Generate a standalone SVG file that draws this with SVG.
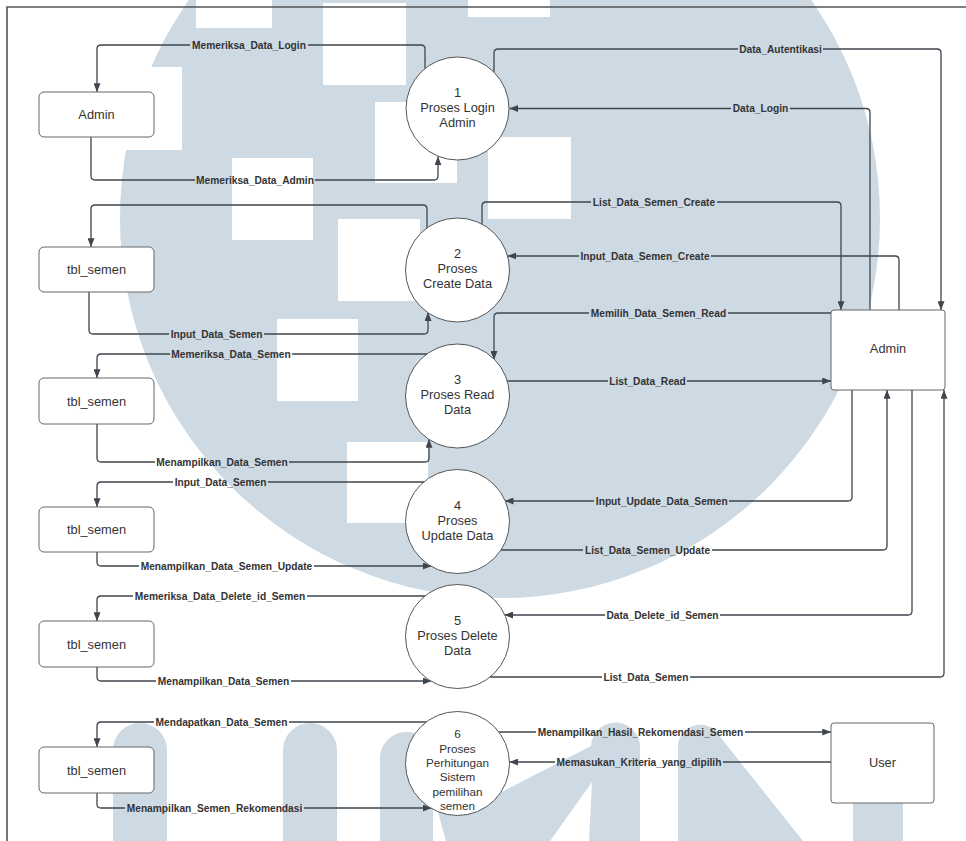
<svg xmlns="http://www.w3.org/2000/svg" width="966" height="841" viewBox="0 0 966 841">
  <style>
    .box { fill: #fff; stroke: #666; stroke-width: 1; }
    .proc { fill: #fff; stroke: #555; stroke-width: 1; }
    .ntxt { font-family: "Liberation Sans", Arial, sans-serif; font-size: 12.8px; fill: #333; text-anchor: middle; }
    .ptxt6 { font-family: "Liberation Sans", Arial, sans-serif; font-size: 11.7px; fill: #333; text-anchor: middle; }
    .lbl { font-family: "Liberation Sans", Arial, sans-serif; font-weight: bold; font-size: 10.2px; fill: #333; text-anchor: middle; }
    .flow { fill: none; stroke: #3f454d; stroke-width: 1.3; }
    .arr { marker-end: url(#arrow); }
  </style>
  <defs>
    <marker id="arrow" viewBox="0 0 10 8" refX="10" refY="4" markerWidth="9" markerHeight="7" markerUnits="userSpaceOnUse" orient="auto">
      <path d="M0,0 L10,4 L0,8 Z" fill="#3f454d"/>
    </marker>
    <!-- gaps in the flow lines behind each label -->
    <mask id="labelGaps" maskUnits="userSpaceOnUse" x="0" y="0" width="966" height="841">
      <rect x="0" y="0" width="966" height="841" fill="#fff"/>
      <g fill="#000">
        <rect x="190" y="39" width="118" height="12"/>
        <rect x="195" y="174" width="120" height="12"/>
        <rect x="738" y="43" width="85" height="12"/>
        <rect x="731" y="102" width="59" height="12"/>
        <rect x="591" y="196" width="126" height="12"/>
        <rect x="579" y="250" width="132" height="12"/>
        <rect x="589" y="307" width="139" height="12"/>
        <rect x="608" y="375" width="79" height="12"/>
        <rect x="594" y="495" width="135" height="12"/>
        <rect x="583" y="544" width="129" height="12"/>
        <rect x="605" y="609" width="115" height="12"/>
        <rect x="602" y="671" width="88" height="12"/>
        <rect x="170" y="348" width="122" height="12"/>
        <rect x="169" y="328" width="95" height="12"/>
        <rect x="155" y="456" width="134" height="12"/>
        <rect x="173" y="476" width="95" height="12"/>
        <rect x="139" y="560" width="175" height="12"/>
        <rect x="133" y="590" width="174" height="12"/>
        <rect x="156" y="675" width="135" height="12"/>
        <rect x="154" y="716" width="135" height="12"/>
        <rect x="125" y="802" width="179" height="12"/>
        <rect x="536" y="726" width="209" height="12"/>
        <rect x="555" y="756" width="168" height="12"/>
      </g>
    </mask>
  </defs>

  <rect x="0" y="0" width="966" height="841" fill="#fff"/>

  <!-- background emblem -->
  <g id="emblem">
    <circle cx="500" cy="218" r="380" fill="#cdd9e3"/>
    <g fill="#fff">
      <rect x="196" y="-60" width="76" height="88"/>
      <rect x="323" y="3" width="83" height="82"/>
      <rect x="468" y="-65" width="82" height="82"/>
      <rect x="375" y="102" width="82" height="81"/>
      <rect x="488" y="137" width="83" height="82"/>
      <rect x="232" y="158" width="81" height="82"/>
      <rect x="338" y="219" width="82" height="82"/>
      <rect x="277" y="319" width="81" height="82"/>
      <rect x="347" y="442" width="81" height="81"/>
      <rect x="100" y="67" width="82" height="83"/>
    </g>
    <g fill="#cdd9e3">
      <path d="M113,841 V750 A27,27 0 0 1 167,750 V841 Z"/>
      <path d="M283,841 V750 A27,27 0 0 1 337,750 V841 Z"/>
      <path d="M380,841 V760 A26.5,26.5 0 0 1 433,757 L486,800 L591,746 A24.5,24.5 0 0 1 640,748 V841 H589 L592,782 L550,841 H446 L433,794 V841 Z"/>
      <path d="M678,841 V746 A22.5,22.5 0 0 1 721,738 L803,841 Z"/>
      <rect x="853" y="803" width="50" height="38"/>
    </g>
  </g>

  <!-- outer frame -->
  <path d="M7,841 V7 H966" fill="none" stroke="#555" stroke-width="1.6"/>

  <!-- data flows -->
  <g id="connectors" class="flow" mask="url(#labelGaps)">
    <path class="arr" d="M425,68.5 V49 Q425,45 421,45 H101 Q97,45 97,49 V92"/>
    <path class="arr" d="M91,137 V176 Q91,180 95,180 H434 Q438,180 438,176 V156.5"/>
    <path class="arr" d="M494,72 V53 Q494,49 498,49 H937 Q941,49 941,53 V310"/>
    <path class="arr" d="M870,310 V112.5 Q870,108.5 866,108.5 H509.5"/>
    <path class="arr" d="M482,224 V206 Q482,202 486,202 H837 Q841,202 841,206 V310"/>
    <path class="arr" d="M899,310 V260 Q899,256 895,256 H507.6"/>
    <path class="arr" d="M831,313 H498 Q494,313 494,317 V359.7"/>
    <path class="arr" d="M507,381 H831"/>
    <path class="arr" d="M852,390 V497 Q852,501 848,501 H504.7"/>
    <path class="arr" d="M500.4,550 H883 Q887,550 887,546 V390"/>
    <path class="arr" d="M912,390 V611 Q912,615 908,615 H504.3"/>
    <path class="arr" d="M489.3,677 H940 Q944,677 944,673 V390"/>
    <path class="arr" d="M427.7,354 H101 Q97,354 97,358 V378"/>
    <path class="arr" d="M89,292 V330 Q89,334 93,334 H424 Q428,334 428,330 V312.2"/>
    <path class="arr" d="M427,228.5 V209 Q427,205 423,205 H95 Q91,205 91,209 V247"/>
    <path class="arr" d="M97,424 V458 Q97,462 101,462 H425 Q429,462 429,458 V439"/>
    <path class="arr" d="M424.5,482 H101 Q97,482 97,486 V507"/>
    <path class="arr" d="M97,552 V562 Q97,566 101,566 H431.6"/>
    <path class="arr" d="M425.7,596 H101 Q97,596 97,600 V621"/>
    <path class="arr" d="M97,667 V677 Q97,681 101,681 H431.6"/>
    <path class="arr" d="M427,722 H101 Q97,722 97,726 V747"/>
    <path class="arr" d="M97,793 V804 Q97,808 101,808 H431.6"/>
    <path class="arr" d="M498.2,732 H831"/>
    <path class="arr" d="M831,762 H509.5"/>
  </g>

  <!-- flow labels -->
  <g id="flow-labels" class="lbl">
    <text x="249" y="48.6">Memeriksa_Data_Login</text>
    <text x="255" y="183.6">Memeriksa_Data_Admin</text>
    <text x="780.5" y="52.6">Data_Autentikasi</text>
    <text x="760.5" y="111.6">Data_Login</text>
    <text x="654" y="205.6">List_Data_Semen_Create</text>
    <text x="645" y="259.6">Input_Data_Semen_Create</text>
    <text x="658.5" y="316.6">Memilih_Data_Semen_Read</text>
    <text x="647.5" y="384.6">List_Data_Read</text>
    <text x="661.8" y="504.6">Input_Update_Data_Semen</text>
    <text x="647.5" y="553.6">List_Data_Semen_Update</text>
    <text x="662.5" y="618.6">Data_Delete_id_Semen</text>
    <text x="646" y="680.6">List_Data_Semen</text>
    <text x="231" y="357.6">Memeriksa_Data_Semen</text>
    <text x="216.5" y="337.6">Input_Data_Semen</text>
    <text x="222" y="465.6">Menampilkan_Data_Semen</text>
    <text x="220.5" y="485.6">Input_Data_Semen</text>
    <text x="226.5" y="569.6">Menampilkan_Data_Semen_Update</text>
    <text x="220" y="599.6">Memeriksa_Data_Delete_id_Semen</text>
    <text x="223.5" y="684.6">Menampilkan_Data_Semen</text>
    <text x="221.5" y="725.6">Mendapatkan_Data_Semen</text>
    <text x="214.5" y="811.6">Menampilkan_Semen_Rekomendasi</text>
    <text x="640.5" y="735.6">Menampilkan_Hasil_Rekomendasi_Semen</text>
    <text x="639" y="765.6">Memasukan_Kriteria_yang_dipilih</text>
  </g>

  <!-- external entities and data stores -->
  <g id="admin-login">
    <rect class="box" x="39" y="92" width="115" height="45" rx="5"/>
    <text class="ntxt" x="96.5" y="119">Admin</text>
  </g>
  <g id="tbl-create">
    <rect class="box" x="39" y="247" width="115" height="45" rx="5"/>
    <text class="ntxt" x="96.5" y="274">tbl_semen</text>
  </g>
  <g id="tbl-read">
    <rect class="box" x="39" y="378" width="115" height="46" rx="5"/>
    <text class="ntxt" x="96.5" y="405.5">tbl_semen</text>
  </g>
  <g id="tbl-update">
    <rect class="box" x="39" y="507" width="115" height="45" rx="5"/>
    <text class="ntxt" x="96.5" y="534">tbl_semen</text>
  </g>
  <g id="tbl-delete">
    <rect class="box" x="39" y="621" width="115" height="46" rx="5"/>
    <text class="ntxt" x="96.5" y="648.5">tbl_semen</text>
  </g>
  <g id="tbl-recommend">
    <rect class="box" x="39" y="747" width="115" height="46" rx="5"/>
    <text class="ntxt" x="96.5" y="774.5">tbl_semen</text>
  </g>
  <g id="admin">
    <rect class="box" x="831" y="310" width="114" height="80" rx="3"/>
    <text class="ntxt" x="888" y="352.5">Admin</text>
  </g>
  <g id="user">
    <rect class="box" x="831" y="723" width="103" height="80" rx="3"/>
    <text class="ntxt" x="882.5" y="767">User</text>
  </g>

  <!-- processes -->
  <g id="p1">
    <circle class="proc" cx="457.5" cy="108.5" r="51.5"/>
    <text class="ntxt" x="457.5" y="96.6">1</text>
    <text class="ntxt" x="457.5" y="111.6">Proses Login</text>
    <text class="ntxt" x="457.5" y="126.6">Admin</text>
  </g>
  <g id="p2">
    <circle class="proc" cx="457.5" cy="270" r="52"/>
    <text class="ntxt" x="457.5" y="257.6">2</text>
    <text class="ntxt" x="457.5" y="272.6">Proses</text>
    <text class="ntxt" x="457.5" y="287.6">Create Data</text>
  </g>
  <g id="p3">
    <circle class="proc" cx="457.5" cy="396" r="52"/>
    <text class="ntxt" x="457.5" y="383.6">3</text>
    <text class="ntxt" x="457.5" y="398.6">Proses Read</text>
    <text class="ntxt" x="457.5" y="413.6">Data</text>
  </g>
  <g id="p4">
    <circle class="proc" cx="457.5" cy="521.5" r="52"/>
    <text class="ntxt" x="457.5" y="510">4</text>
    <text class="ntxt" x="457.5" y="525">Proses</text>
    <text class="ntxt" x="457.5" y="540">Update Data</text>
  </g>
  <g id="p5">
    <circle class="proc" cx="457.5" cy="636.5" r="52"/>
    <text class="ntxt" x="457.5" y="624.5">5</text>
    <text class="ntxt" x="457.5" y="639.5">Proses Delete</text>
    <text class="ntxt" x="457.5" y="654.5">Data</text>
  </g>
  <g id="p6">
    <circle class="proc" cx="457.5" cy="763.5" r="52"/>
    <text class="ptxt6" x="457.5" y="738.1">6</text>
    <text class="ptxt6" x="457.5" y="752.5">Proses</text>
    <text class="ptxt6" x="457.5" y="766.9">Perhitungan</text>
    <text class="ptxt6" x="457.5" y="781.3">Sistem</text>
    <text class="ptxt6" x="457.5" y="795.7">pemilihan</text>
    <text class="ptxt6" x="457.5" y="810.1">semen</text>
  </g>
</svg>
